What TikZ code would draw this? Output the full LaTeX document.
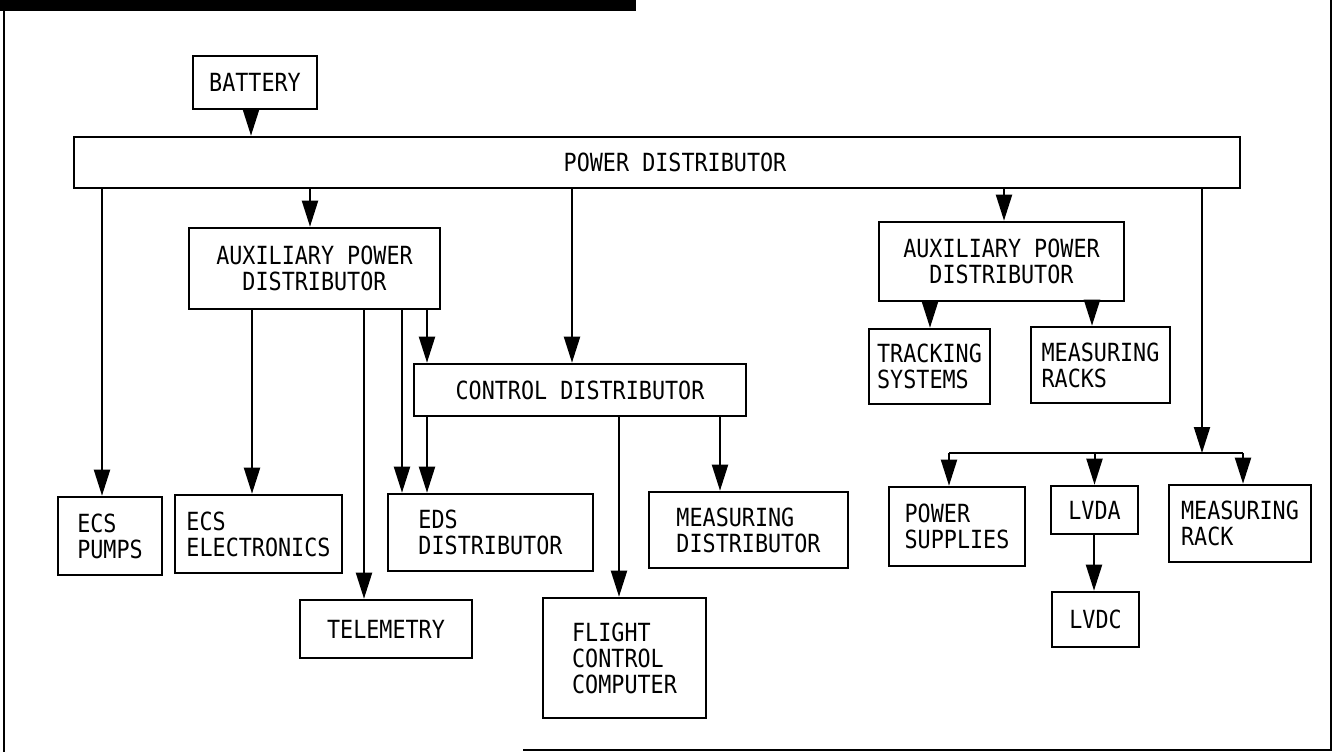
\documentclass[tikz,border=0pt]{standalone}
\usepackage{fontspec}
\newfontfamily\blockfont{DejaVu Sans Mono}[FakeStretch=0.87]
\usetikzlibrary{arrows.meta}

\begin{document}
\begin{tikzpicture}[x=0.5pt, y=-0.5pt,
		box/.style={draw, line width=1.3pt, inner sep=0pt, align=left,
			font=\blockfont\fontsize{12.5}{13}\selectfont},
		arr/.style={line width=1pt, -{Triangle[length=13pt,width=8pt]}}]
	\useasboundingbox (0,0) rectangle (1339,752);
	
	% ================= frame =================
	\fill (0,0) rectangle (636,11);
	\draw[line width=1pt] (4,11) -- (4,752);
	\draw[line width=1pt] (523,750) -- (1331,750) -- (1331,0);
	
	% ================= top level =================
	\node[box, minimum width=62pt, minimum height=26.5pt] (bat) at (255,82.5) {BATTERY};
	\node[box, minimum width=583pt, minimum height=25.5pt] (pd) at (657,162.5) {\hspace*{18pt}POWER DISTRIBUTOR};
	
	% ================= left branch =================
	\node[box, align=center, minimum width=125.5pt, minimum height=40.5pt] (auxl) at (314.5,268.5) {AUXILIARY POWER\\DISTRIBUTOR};
	\node[box, minimum width=166pt, minimum height=26pt] (cd) at (580,390) {CONTROL DISTRIBUTOR};
	\node[box, minimum width=52pt, minimum height=39pt] (pumps) at (110,536) {ECS\\PUMPS};
	\node[box, minimum width=83.5pt, minimum height=39pt] (elec) at (258.5,534) {ECS\\ELECTRONICS};
	\node[box, minimum width=102.5pt, minimum height=38.5pt] (eds) at (490.5,532.5) {EDS\\DISTRIBUTOR};
	\node[box, minimum width=99.5pt, minimum height=38pt] (md) at (748.5,530) {MEASURING\\DISTRIBUTOR};
	\node[box, minimum width=86pt, minimum height=29pt] (tele) at (386,629) {TELEMETRY};
	\node[box, minimum width=81.5pt, minimum height=60pt] (fcc) at (624.5,658) {FLIGHT\\CONTROL\\COMPUTER};
	
	% ================= right branch =================
	\node[box, align=center, minimum width=122.5pt, minimum height=39.5pt] (auxr) at (1001.5,261.5) {AUXILIARY POWER\\DISTRIBUTOR};
	\node[box, minimum width=60.5pt, minimum height=37.5pt] (trk) at (929.5,366.5) {TRACKING\\SYSTEMS};
	\node[box, minimum width=69.5pt, minimum height=38pt] (mracks) at (1100.5,365) {MEASURING\\RACKS};
	\node[box, minimum width=68pt, minimum height=39.5pt] (ps) at (957,526.5) {POWER\\SUPPLIES};
	\node[box, minimum width=43.5pt, minimum height=24pt] (lvda) at (1094.5,510) {LVDA};
	\node[box, minimum width=43.5pt, minimum height=27.5pt] (lvdc) at (1095.5,619.5) {LVDC};
	\node[box, minimum width=71pt, minimum height=38.5pt] (mrack) at (1240,523.5) {MEASURING\\RACK};
	
	% ================= vertical feeds =================
	\foreach \src/\dst/\xx in {bat/pd/251, pd/pumps/102, pd/auxl/310, pd/cd/572, pd/auxr/1004,
		auxl/elec/252, auxl/tele/364, auxl/eds/402, auxl/cd/427, cd/eds/427, cd/fcc/619,
		cd/md/720, auxr/trk/930, auxr/mracks/1092, lvda/lvdc/1094} {
		\coordinate (col) at (\xx,0);
		\draw[arr] (\src.south -| col) -- (\dst.north -| col);
	}
	
	% ================= bus to LVDA group =================
	\coordinate (bus) at (1202,453);
	\coordinate (busL) at (949,453);
	\coordinate (busR) at (1243,453);
	\draw[arr] (pd.south -| bus) -- (bus);
	\draw[line width=1pt] (busL) -- (busR);
	\draw[arr] (busL) -- (ps.north -| busL);
	\draw[arr] (bus -| lvda.north) -- (lvda.north);
	\draw[arr] (busR) -- (mrack.north -| busR);
	
\end{tikzpicture}
\end{document}
